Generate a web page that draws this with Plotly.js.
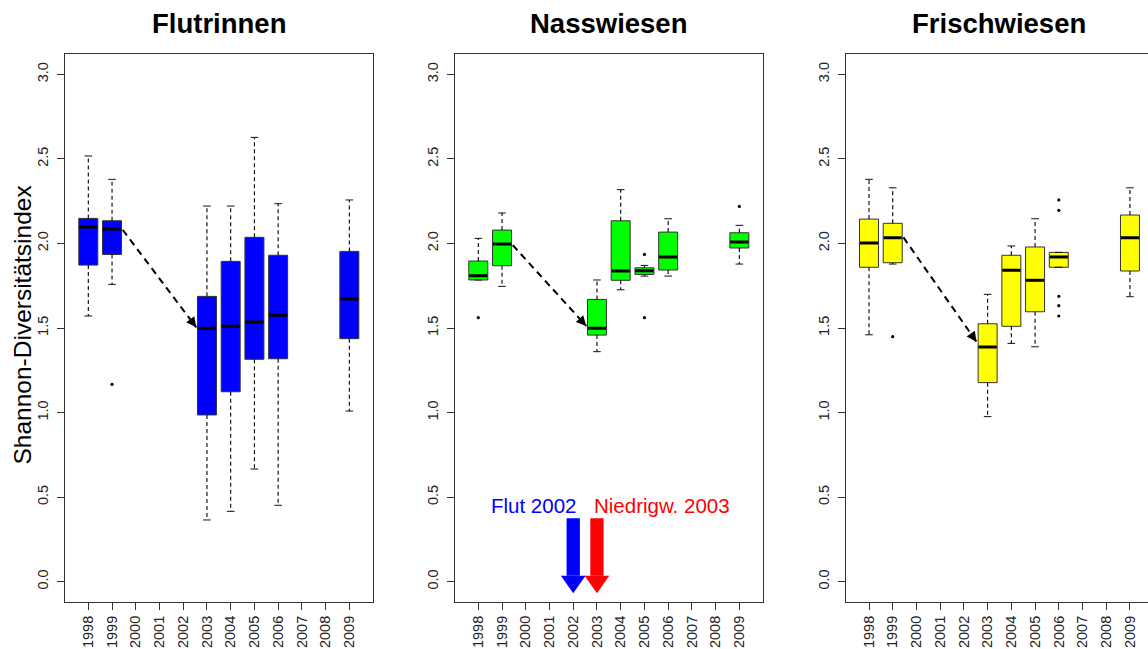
<!DOCTYPE html>
<html><head><meta charset="utf-8">
<script src="https://cdn.plot.ly/plotly-3.0.1.min.js"></script>
<style>html,body{margin:0;padding:0;background:#fff}#chart{width:1148px;height:649px}</style>
</head><body><div id="chart"></div>
<script>
const years = [1998,1999,2000,2001,2002,2003,2004,2005,2006,2007,2008,2009];
const yearLabels = years.map(String);
const yTicks = [0,0.5,1,1.5,2,2.5,3];
const yTickLabels = ['0.0','0.5','1.0','1.5','2.0','2.5','3.0'];
const panelTitles = ['Flutrinnen','Nasswiesen','Frischwiesen'];
const panelColors = ['#0000FF','#00FF00','#FFFF00'];
const yTitle = 'Shannon-Diversitätsindex';

// Flutrinnen
const flutYears  = [1998,1999,2003,2004,2005,2006,2009];
const flutLower  = [1.571,1.758,0.365,0.416,0.666,0.452,1.009];
const flutQ1     = [1.872,1.935,0.986,1.123,1.315,1.318,1.437];
const flutMedian = [2.097,2.085,1.498,1.510,1.535,1.575,1.671];
const flutQ3     = [2.148,2.134,1.687,1.894,2.036,1.930,1.953];
const flutUpper  = [2.517,2.379,2.221,2.221,2.627,2.235,2.257];
const flutOutX   = [1999];
const flutOutY   = [1.167];

// Nasswiesen
const nassYears  = [1998,1999,2003,2004,2005,2006,2009];
const nassLower  = [1.784,1.746,1.360,1.726,1.807,1.807,1.878];
const nassQ1     = [1.784,1.868,1.458,1.782,1.817,1.843,1.973];
const nassMedian = [1.809,1.996,1.498,1.837,1.839,1.920,2.008];
const nassQ3     = [1.896,2.079,1.669,2.134,1.856,2.067,2.063];
const nassUpper  = [2.030,2.180,1.784,2.318,1.870,2.146,2.107];
const nassOutX   = [1998,2005,2005,2009];
const nassOutY   = [1.561,1.935,1.561,2.219];

// Frischwiesen
const frischYears  = [1998,1999,2003,2004,2005,2006,2009];
const frischLower  = [1.460,1.878,0.976,1.409,1.389,1.859,1.685];
const frischQ1     = [1.859,1.886,1.177,1.510,1.596,1.859,1.837];
const frischMedian = [2.002,2.034,1.388,1.841,1.782,1.920,2.034];
const frischQ3     = [2.144,2.119,1.525,1.930,1.979,1.947,2.168];
const frischUpper  = [2.379,2.329,1.699,1.985,2.146,1.947,2.329];
const frischOutX   = [1999,2006,2006,2006,2006,2006];
const frischOutY   = [1.449,2.257,2.196,1.687,1.632,1.571];

// dashed trend arrows (1999 -> 2003)
const trendFromX = [1999.45,1999.45,1999.45];
const trendFromY = [2.080,1.990,2.036];
const trendToX   = [2002.55,2002.55,2002.53];
const trendToY   = [1.504,1.512,1.419];

// event markers in Nasswiesen
const eventYears  = [2002,2003];
const eventLabels = ['Flut 2002','Niedrigw. 2003'];
const eventColors = ['#0000FF','#FF0000'];
const eventLabelX = [2002.22,2002.78];
const eventLabelY = 0.45;
const eventTop = 0.375, eventHeadBase = 0.035, eventTip = -0.069;

const panels = [
  {yrs:flutYears,lo:flutLower,q1:flutQ1,med:flutMedian,q3:flutQ3,up:flutUpper,ox:flutOutX,oy:flutOutY},
  {yrs:nassYears,lo:nassLower,q1:nassQ1,med:nassMedian,q3:nassQ3,up:nassUpper,ox:nassOutX,oy:nassOutY},
  {yrs:frischYears,lo:frischLower,q1:frischQ1,med:frischMedian,q3:frischQ3,up:frischUpper,ox:frischOutX,oy:frischOutY}
];

const W = 1148, H = 649;
const xDomains = [[65.05/W, 372.6/W],[455.05/W, 762.6/W],[845.75/W, 1]];
const xRanges = [[1997.02,2009.98],[1997.02,2009.98],[1997.02,2009.76]];
const yDomain = [47/H, 595/H];
const FONT = 'Liberation Sans, Arial, Helvetica, sans-serif';
const BOXW = 0.8, CAPW = 0.32;

const traces = [];
const annotations = [];
const shapes = [];
const layout = {
  width: W, height: H,
  margin: {l:0,r:0,t:0,b:0},
  paper_bgcolor: '#fff', plot_bgcolor: '#fff',
  showlegend: false, boxmode: 'overlay',
  font: {family: FONT, color: '#222'}
};

panels.forEach((p, i) => {
  const n = i + 1;
  const xa = 'x' + (n === 1 ? '' : n), ya = 'y' + (n === 1 ? '' : n);
  const xk = 'xaxis' + (n === 1 ? '' : n), yk = 'yaxis' + (n === 1 ? '' : n);
  layout[xk] = {
    domain: xDomains[i], range: xRanges[i], anchor: ya,
    tickmode: 'array', tickvals: years, ticktext: yearLabels, tickangle: -90,
    ticks: 'outside', ticklen: 7, tickwidth: 1, tickcolor: '#333',
    showline: true, linecolor: '#333', linewidth: 1, mirror: true,
    showgrid: false, zeroline: false,
    tickfont: {family: FONT, size: 14.5, color: '#222'}
  };
  layout[yk] = {
    domain: yDomain, range: [-0.12, 3.12], anchor: xa,
    tickmode: 'array', tickvals: yTicks, ticktext: yTickLabels, tickangle: -90,
    ticks: 'outside', ticklen: 7, tickwidth: 1, tickcolor: '#333',
    showline: true, linecolor: '#333', linewidth: 1, mirror: i < 2,
    showgrid: false, zeroline: false, ticklabelstandoff: 3,
    tickfont: {family: FONT, size: 14.5, color: '#222'}
  };

  // boxes (whiskers drawn separately as dashed lines)
  traces.push({
    type: 'box', xaxis: xa, yaxis: ya,
    x: p.yrs, q1: p.q1, median: p.med, q3: p.q3,
    lowerfence: p.q1, upperfence: p.q3,
    width: BOXW, whiskerwidth: 0, boxpoints: false,
    fillcolor: panelColors[i], line: {color: '#333', width: 1},
    hoverinfo: 'skip'
  });

  // dashed whiskers
  const wx = [], wy = [];
  p.yrs.forEach((yr, k) => {
    wx.push(yr, yr, null, yr, yr, null);
    wy.push(p.q3[k], p.up[k], null, p.q1[k], p.lo[k], null);
  });
  traces.push({type:'scatter', mode:'lines', xaxis:xa, yaxis:ya, x:wx, y:wy,
    line:{color:'#000', width:1.1, dash:'4px,3px'}, hoverinfo:'skip'});

  // whisker caps
  const cx = [], cy = [];
  p.yrs.forEach((yr, k) => {
    cx.push(yr - CAPW/2, yr + CAPW/2, null, yr - CAPW/2, yr + CAPW/2, null);
    cy.push(p.up[k], p.up[k], null, p.lo[k], p.lo[k], null);
  });
  traces.push({type:'scatter', mode:'lines', xaxis:xa, yaxis:ya, x:cx, y:cy,
    line:{color:'#111', width:1}, hoverinfo:'skip'});

  // thick medians
  const mx = [], my = [];
  p.yrs.forEach((yr, k) => {
    mx.push(yr - BOXW/2 + 0.02, yr + BOXW/2 - 0.02, null);
    my.push(p.med[k], p.med[k], null);
  });
  traces.push({type:'scatter', mode:'lines', xaxis:xa, yaxis:ya, x:mx, y:my,
    line:{color:'#000', width:3}, hoverinfo:'skip'});

  // outliers
  traces.push({type:'scatter', mode:'markers', xaxis:xa, yaxis:ya, x:p.ox, y:p.oy,
    marker:{color:'#000', size:3.2}, hoverinfo:'skip'});

  // dashed trend arrow
  traces.push({type:'scatter', mode:'lines', xaxis:xa, yaxis:ya,
    x:[trendFromX[i], trendToX[i]], y:[trendFromY[i], trendToY[i]],
    line:{color:'#000', width:2, dash:'7px,5px'}, hoverinfo:'skip'});
  const f = 0.1;
  annotations.push({
    xref: xa, yref: ya, axref: xa, ayref: ya,
    x: trendToX[i], y: trendToY[i],
    ax: trendToX[i] + f*(trendFromX[i]-trendToX[i]),
    ay: trendToY[i] + f*(trendFromY[i]-trendToY[i]),
    text: ' ', showarrow: true, arrowhead: 2, arrowsize: 1, arrowwidth: 2,
    arrowcolor: '#000', standoff: 0, startstandoff: 0
  });

  // panel title
  annotations.push({
    xref: xa, yref: 'paper', x: 2003.5, y: 1 - 23.5/H,
    xanchor: 'center', yanchor: 'middle', showarrow: false,
    text: panelTitles[i], font: {family: FONT, size: 27.5, color: '#000', weight: 'bold'}
  });
});

// y axis title
annotations.push({
  xref: 'paper', yref: 'paper', x: 22/W, y: 1 - 325.5/H,
  xanchor: 'center', yanchor: 'middle', showarrow: false, textangle: -90,
  text: yTitle, font: {family: FONT, size: 24.5, color: '#000'}
});

// event labels and fat arrows in Nasswiesen panel
eventYears.forEach((yr, k) => {
  annotations.push({
    xref: 'x2', yref: 'y2', x: eventLabelX[k], y: eventLabelY,
    xanchor: k === 0 ? 'right' : 'left', yanchor: 'middle', showarrow: false,
    text: eventLabels[k], font: {family: FONT, size: 20.5, color: eventColors[k]}
  });
  shapes.push({type:'rect', xref:'x2', yref:'y2', layer:'above',
    x0: yr - 0.28, x1: yr + 0.28, y0: eventHeadBase, y1: eventTop,
    fillcolor: eventColors[k], line: {width: 0}});
  shapes.push({type:'path', xref:'x2', yref:'y2', layer:'above',
    path: `M ${yr-0.52},${eventHeadBase} L ${yr+0.52},${eventHeadBase} L ${yr},${eventTip} Z`,
    fillcolor: eventColors[k], line: {width: 0}});
});

layout.annotations = annotations;
layout.shapes = shapes;
Plotly.newPlot('chart', traces, layout, {displayModeBar: false, staticPlot: true});
</script>
</body></html>
